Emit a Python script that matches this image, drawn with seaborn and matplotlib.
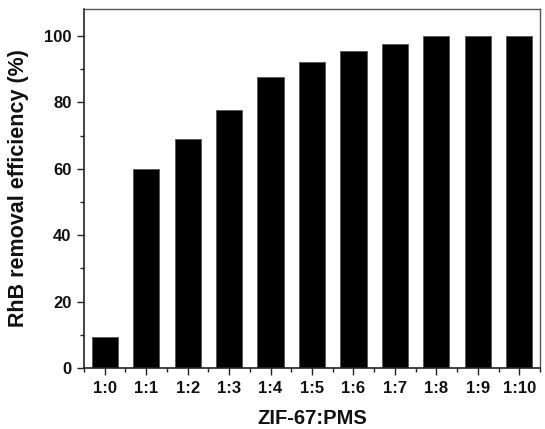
import matplotlib
matplotlib.use("Agg")
import matplotlib.pyplot as plt
from matplotlib.ticker import MultipleLocator
import seaborn as sns
import pandas as pd

ratios = ["1:0", "1:1", "1:2", "1:3", "1:4", "1:5", "1:6", "1:7", "1:8", "1:9", "1:10"]
removal = [9.4, 60.0, 69.1, 77.6, 87.5, 92.2, 95.6, 97.7, 100.0, 100.0, 100.0]

df = pd.DataFrame({"ratio": ratios, "removal": removal})

sns.set_theme(style="ticks")
plt.rcParams["font.family"] = ["Liberation Sans", "DejaVu Sans"]
plt.rcParams["font.weight"] = "bold"
plt.rcParams["text.color"] = "#111111"
plt.rcParams["axes.labelcolor"] = "#111111"
plt.rcParams["xtick.labelcolor"] = "#111111"
plt.rcParams["ytick.labelcolor"] = "#111111"

fig = plt.figure(figsize=(5.45, 4.29), dpi=100)
ax = fig.add_axes([84 / 545, 1 - 368 / 429, (540 - 84) / 545, (368 - 9) / 429])

sns.barplot(data=df, x="ratio", y="removal", color="black", width=0.63,
            edgecolor="#555555", linewidth=0.6, saturation=1, ax=ax)

ax.set_xlim(-0.5, 10.5)
ax.set_ylim(0, 108.1)
ax.yaxis.set_major_locator(MultipleLocator(20))
ax.yaxis.set_minor_locator(MultipleLocator(10))
ax.set_xticks(range(len(ratios)))
ax.set_xticks([i + 0.5 for i in range(-1, len(ratios))], minor=True)

ax.tick_params(axis="both", which="major", direction="out", length=5, width=1,
               labelsize=12, color="#222222", labelcolor="#111111")
ax.tick_params(axis="both", which="minor", direction="out", length=3, width=1,
               color="#222222")
ax.tick_params(axis="x", which="major", pad=4.5)
ax.tick_params(axis="y", which="major", pad=4)
for lbl in ax.get_xticklabels() + ax.get_yticklabels():
    lbl.set_fontweight("bold")

for side in ["left", "bottom"]:
    ax.spines[side].set_linewidth(1.2)
    ax.spines[side].set_color("#222222")
for side in ["top", "right"]:
    ax.spines[side].set_visible(True)
    ax.spines[side].set_linewidth(1.0)
    ax.spines[side].set_color("#555555")

ax.set_xlabel("ZIF-67:PMS", fontsize=14.5, fontweight="bold", labelpad=9, color="#111111")
ax.set_ylabel("RhB removal efficiency (%)", fontsize=15.5, fontweight="bold", labelpad=11,
              color="#111111")

fig.savefig("out.png", dpi=100)
